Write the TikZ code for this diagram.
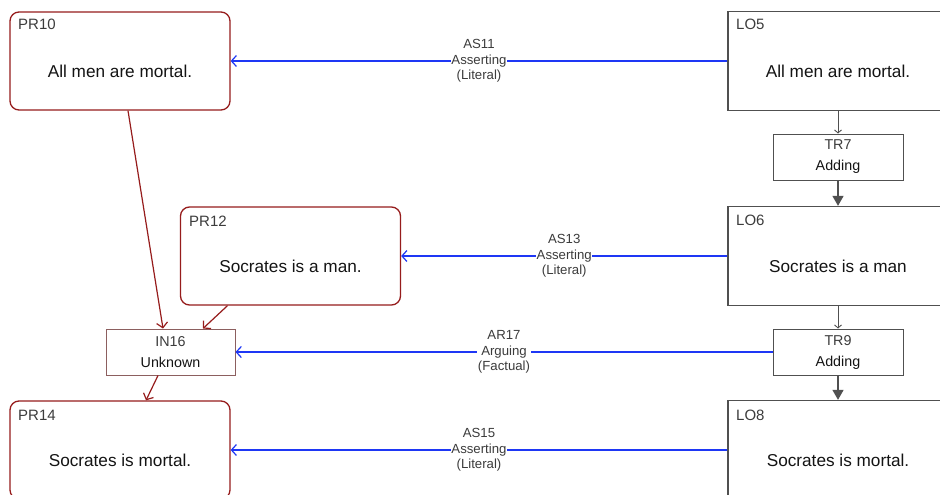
\documentclass[tikz,border=0pt]{standalone}
\usepackage{fontspec}
\setmainfont{Liberation Sans}
\usetikzlibrary{arrows.meta}
\definecolor{prred}{RGB}{150,28,28}
\definecolor{linkblue}{RGB}{30,55,245}
\definecolor{boxgrey}{RGB}{80,80,80}
\definecolor{hdrgrey}{RGB}{60,60,60}
\definecolor{ingrey}{RGB}{140,95,95}
\definecolor{txt}{RGB}{20,20,20}
\begin{document}
\begin{tikzpicture}[x=1pt,y=-1pt,
  prbox/.style={draw=prred, line width=1.3pt, rounded corners=9pt, minimum width=220pt, minimum height=98pt, inner sep=0pt},
  lobox/.style={draw=boxgrey, line width=1.3pt, minimum width=220pt, minimum height=99pt, inner sep=0pt},
  trbox/.style={draw=boxgrey, line width=1pt, minimum width=130pt, minimum height=46pt, inner sep=0pt, align=center, font=\fontsize{14.3}{17}\selectfont, text=txt},
  inbox/.style={draw=ingrey, line width=1pt, minimum width=129pt, minimum height=46pt, inner sep=0pt, align=center, font=\fontsize{14.3}{17}\selectfont, text=txt},
  hdr/.style={anchor=base west, inner sep=0pt, font=\fontsize{15}{17}\selectfont, text=hdrgrey},
  maintxt/.style={inner sep=0pt, font=\fontsize{17.2}{20}\selectfont, text=txt},
  lbl/.style={fill=white, inner sep=0.5pt, align=center, font=\fontsize{13.2}{15.5}\selectfont, text=hdrgrey},
  bluearr/.style={draw=linkblue, line width=1.2pt, -{Straight Barb[length=5pt,width=11pt]}},
  redarr/.style={draw=prred, line width=1.2pt, -{Straight Barb[length=5pt,width=11pt]}},
  smallarr/.style={draw=boxgrey, line width=0.9pt, -{Straight Barb[length=3pt,width=7pt]}},
  bigarr/.style={draw=boxgrey, line width=1.4pt, -{Triangle[length=10pt,width=11pt]}}
]
\useasboundingbox[fill=white] (0,0) rectangle (940,495);

% left column
\node[prbox] (pr10) at (120,61) {};
\node[hdr] (pr10h) at (18,30) {PR10};
\node[maintxt] (pr10t) at (120,71) {All men are mortal.};

\node[prbox] (pr12) at (290.5,256) {};
\node[hdr] (pr12h) at (189,226) {PR12};
\node[maintxt] (pr12t) at (290.5,266) {Socrates is a man.};

\node[inbox] (in16) at (170.5,352) {\textcolor{hdrgrey}{IN16}\\[4pt]Unknown};

\node[prbox] (pr14) at (120,450) {};
\node[hdr] (pr14h) at (18,420) {PR14};
\node[maintxt] (pr14t) at (120,460) {Socrates is mortal.};

% right column
\node[lobox] (lo5) at (838,61) {};
\node[hdr] (lo5h) at (736,30) {LO5};
\node[maintxt] (lo5t) at (838,71) {All men are mortal.};

\node[trbox] (tr7) at (838,157) {\textcolor{hdrgrey}{TR7}\\[4pt]Adding};

\node[lobox] (lo6) at (838,256) {};
\node[hdr] (lo6h) at (736,225) {LO6};
\node[maintxt] (lo6t) at (838,266) {Socrates is a man};

\node[trbox] (tr9) at (838,352) {\textcolor{hdrgrey}{TR9}\\[4pt]Adding};

\node[lobox] (lo8) at (838,450) {};
\node[hdr] (lo8h) at (736,420) {LO8};
\node[maintxt] (lo8t) at (838,460) {Socrates is mortal.};

% grey connectors
\draw[smallarr] (lo5) -- (tr7);
\draw[bigarr] (tr7) -- (lo6);
\draw[smallarr] (lo6) -- (tr9);
\draw[bigarr] (tr9) -- (lo8);

% blue connectors
\draw[bluearr] (lo5) -- node[lbl] (as11) {AS11\\Asserting\\(Literal)} (pr10);
\draw[bluearr] (lo6) -- node[lbl] (as13) {AS13\\Asserting\\(Literal)} (pr12);
\draw[bluearr] (tr9) -- node[lbl] (ar17) {AR17\\Arguing\\(Factual)} (in16);
\draw[bluearr] (lo8) -- node[lbl] (as15) {AS15\\Asserting\\(Literal)} (pr14);

% red connectors
\draw[redarr] ([xshift=8pt]pr10.south) -- ([xshift=-7.5pt]in16.north);
\draw[redarr] ([xshift=-63pt]pr12.south) -- ([xshift=32.5pt]in16.north);
\draw[redarr] ([xshift=-12.5pt]in16.south) -- ([xshift=26pt]pr14.north);
\end{tikzpicture}
\end{document}
